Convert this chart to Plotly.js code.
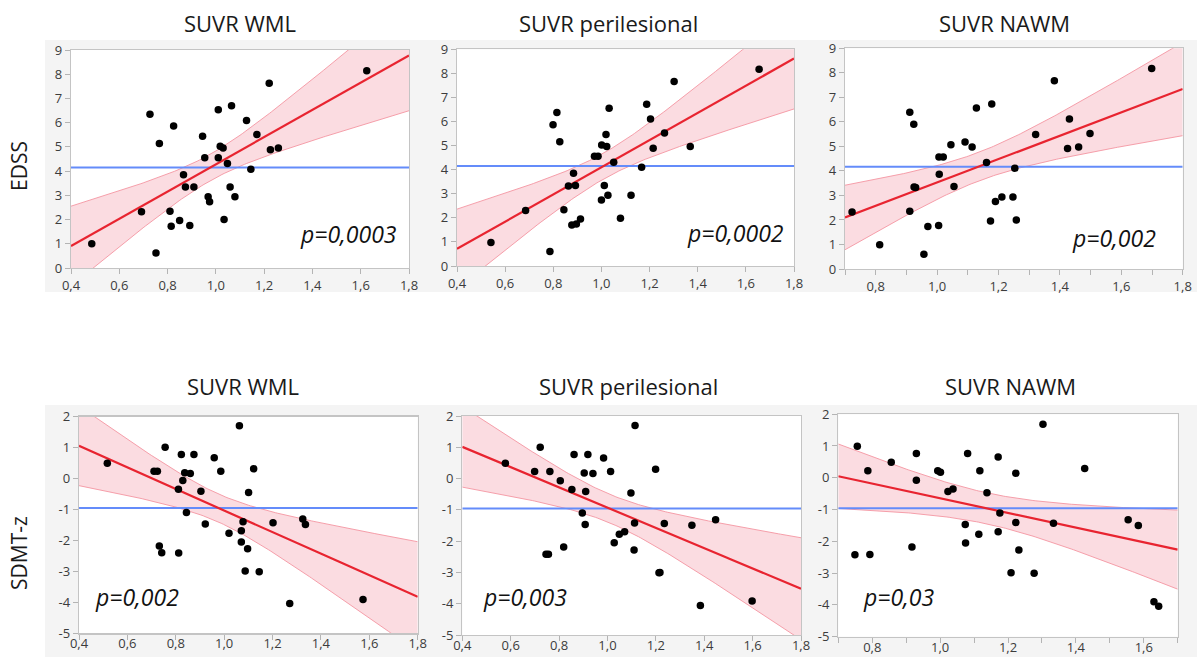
<!DOCTYPE html>
<html>
<head>
<meta charset="utf-8">
<script src="https://cdn.plot.ly/plotly-3.0.1.min.js"></script>
<style>html,body{margin:0;padding:0;background:#fff;}#chart{width:1197px;height:657px;}</style>
</head>
<body>
<div id="chart"></div>
<script>
// ---------- DATA ----------
const panelTitles = ["SUVR WML", "SUVR perilesional", "SUVR NAWM"];
const rowLabels = ["EDSS", "SDMT-z"];
const pValues = ["p=0,0003", "p=0,0002", "p=0,002", "p=0,002", "p=0,003", "p=0,03"];

const edssWmlX = [0.486,0.692,0.727,0.752,0.766,0.810,0.815,0.825,0.850,0.866,0.874,0.892,0.909,0.945,0.954,0.968,0.974,1.010,1.010,1.018,1.030,1.034,1.048,1.059,1.065,1.079,1.127,1.145,1.170,1.221,1.226,1.259,1.625];
const edssWmlY = [1.00,2.32,6.35,0.62,5.14,2.34,1.72,5.86,1.96,3.85,3.34,1.75,3.34,5.44,4.55,2.94,2.74,6.53,4.55,5.03,4.95,2.00,4.31,3.34,6.70,2.94,6.09,4.08,5.51,7.63,4.88,4.95,8.14];

const edssPeriX = [0.541,0.685,0.786,0.799,0.815,0.827,0.844,0.863,0.877,0.884,0.892,0.896,0.913,0.971,0.986,1.000,1.001,1.012,1.019,1.022,1.027,1.032,1.051,1.079,1.123,1.167,1.188,1.204,1.215,1.262,1.302,1.369,1.655];
const edssPeriY = [0.98,2.31,0.60,5.87,6.37,5.16,2.34,3.32,1.70,3.85,3.34,1.74,1.95,4.56,4.56,2.74,5.03,3.34,5.46,4.96,2.94,6.55,4.31,1.98,2.94,4.10,6.72,6.11,4.89,5.52,7.66,4.96,8.17];

const edssNawmX = [0.723,0.813,0.911,0.911,0.924,0.925,0.930,0.957,0.970,1.005,1.006,1.007,1.020,1.045,1.055,1.091,1.114,1.128,1.161,1.174,1.178,1.190,1.211,1.247,1.253,1.258,1.321,1.382,1.425,1.431,1.461,1.498,1.699];
const edssNawmY = [2.32,0.99,6.39,2.35,5.90,3.34,3.32,0.60,1.73,1.77,4.57,3.86,4.57,5.07,3.36,5.18,4.98,6.57,4.34,1.96,6.73,2.75,2.94,2.94,4.11,2.00,5.48,7.68,4.91,6.12,4.98,5.53,8.18];

const sdmtWmlX = [0.517,0.710,0.724,0.732,0.742,0.756,0.811,0.812,0.823,0.829,0.837,0.844,0.860,0.875,0.904,0.922,0.959,0.986,1.020,1.063,1.071,1.071,1.078,1.087,1.097,1.101,1.122,1.145,1.202,1.271,1.325,1.336,1.574];
const sdmtWmlY = [0.49,0.23,0.23,-2.18,-2.40,1.01,-0.35,-2.41,0.77,-0.07,0.18,-1.10,0.16,0.77,-0.41,-1.47,0.67,0.23,-1.77,1.70,-1.69,-2.05,-1.40,-2.99,-2.27,-0.45,0.31,-3.01,-1.43,-4.04,-1.31,-1.49,-3.91];

const sdmtPeriX = [0.578,0.699,0.722,0.746,0.756,0.762,0.805,0.819,0.853,0.862,0.896,0.904,0.908,0.910,0.919,0.940,0.984,1.013,1.028,1.049,1.071,1.097,1.110,1.112,1.114,1.199,1.213,1.217,1.235,1.349,1.384,1.447,1.598];
const sdmtPeriY = [0.49,0.23,1.00,-2.42,-2.42,0.23,-0.07,-2.19,-0.35,0.77,-1.10,0.18,-1.47,-0.41,0.77,0.16,0.66,0.23,-2.05,-1.78,-1.70,-0.46,-2.28,-1.42,1.70,0.30,-3.01,-3.00,-1.44,-1.49,-4.06,-1.32,-3.91];

const sdmtNawmX = [0.749,0.756,0.787,0.793,0.856,0.917,0.930,0.930,0.993,1.001,1.023,1.038,1.074,1.075,1.081,1.114,1.117,1.138,1.171,1.171,1.176,1.209,1.223,1.223,1.232,1.277,1.303,1.334,1.426,1.554,1.584,1.630,1.644];
const sdmtNawmY = [-2.42,0.99,0.22,-2.41,0.49,-2.18,0.76,-0.08,0.22,0.17,-0.43,-0.35,-1.47,-2.05,0.76,-1.78,0.22,-0.47,0.65,-1.70,-1.11,-2.99,0.14,-1.41,-2.27,-3.00,1.68,-1.43,0.29,-1.32,-1.50,-3.90,-4.04];

const xTicksFull = [0.4,0.6,0.8,1.0,1.2,1.4,1.6,1.8];
const xTickLabelsFull = ["0,4","0,6","0,8","1,0","1,2","1,4","1,6","1,8"];
const xTicksNawm = [0.8,1.0,1.2,1.4,1.6,1.8];
const xTickLabelsNawm = ["0,8","1,0","1,2","1,4","1,6","1,8"];
const yTicksEdss = [0,1,2,3,4,5,6,7,8,9];
const yTicksSdmt = [-5,-4,-3,-2,-1,0,1,2];
const yTickLabelsSdmt = ["-5","-4","-3","-2","-1","0","1","2"];

// ---------- LAYOUT CONFIG ----------
const W = 1197, H = 657;
const px = v => v / W;
const py = v => 1 - v / H;

const panels = [
  {x: edssWmlX,  y: edssWmlY,  xr:[0.4,1.8], yr:[0,9],  dom:[71,409,50,268],        top:true,  nawm:false, title:0, tcx:240},
  {x: edssPeriX, y: edssPeriY, xr:[0.4,1.8], yr:[0,9],  dom:[457,794,49.3,266],     top:true,  nawm:false, title:1, tcx:608},
  {x: edssNawmX, y: edssNawmY, xr:[0.7,1.8], yr:[0,9],  dom:[845,1182.7,48.3,269],  top:true,  nawm:true,  title:2, tcx:1004},
  {x: sdmtWmlX,  y: sdmtWmlY,  xr:[0.4,1.8], yr:[-5,2], dom:[79,417.7,416.5,633.3], top:false, nawm:false, title:0, tcx:243},
  {x: sdmtPeriX, y: sdmtPeriY, xr:[0.4,1.8], yr:[-5,2], dom:[462.3,801,416,635],    top:false, nawm:false, title:1, tcx:628},
  {x: sdmtNawmX, y: sdmtNawmY, xr:[0.7,1.7], yr:[-5,2], dom:[838.3,1177.7,414.2,636.7], top:false, nawm:true, title:2, tcx:1010}
];
const pPos = [
  {x:399, y:234, anchor:'right'}, {x:786, y:233, anchor:'right'}, {x:1158, y:238, anchor:'right'},
  {x:93, y:597, anchor:'left'}, {x:481, y:597, anchor:'left'}, {x:861, y:597, anchor:'left'}
];

const FONT = "'Open Sans', 'Noto Sans', sans-serif";
const T = 2.04; // t(0.975, 31)

function fit(xs, ys, x0, x1) {
  const n = xs.length;
  const mx = xs.reduce((a,b)=>a+b,0)/n;
  const my = ys.reduce((a,b)=>a+b,0)/n;
  let sxx=0, sxy=0;
  for (let i=0;i<n;i++){ sxx += (xs[i]-mx)**2; sxy += (xs[i]-mx)*(ys[i]-my); }
  const b = sxy/sxx, a = my - b*mx;
  let sse=0;
  for (let i=0;i<n;i++){ sse += (ys[i]-(a+b*xs[i]))**2; }
  const s = Math.sqrt(sse/(n-2));
  const N = 150, gx=[], yh=[], lo=[], hi=[];
  for (let i=0;i<=N;i++){
    const x = x0 + (x1-x0)*i/N;
    const yv = a + b*x;
    const se = s*Math.sqrt(1/n + (x-mx)**2/sxx);
    gx.push(x); yh.push(yv); lo.push(yv - T*se); hi.push(yv + T*se);
  }
  return {gx, yh, lo, hi, my};
}

const traces = [];
const layout = {
  width: W, height: H,
  margin: {l:0, r:0, t:0, b:0},
  paper_bgcolor: '#ffffff',
  plot_bgcolor: '#ffffff',
  showlegend: false,
  separators: ',.',
  font: {family: FONT, color: '#3a3a3a', size: 13},
  shapes: [
    {type:'rect', xref:'paper', yref:'paper', x0:px(45), x1:1, y0:py(292), y1:py(40), fillcolor:'#f4f4f4', line:{width:0}, layer:'below'},
    {type:'rect', xref:'paper', yref:'paper', x0:px(45), x1:1, y0:0, y1:py(405), fillcolor:'#f4f4f4', line:{width:0}, layer:'below'}
  ],
  annotations: []
};

panels.forEach((p, i) => {
  const k = i + 1;
  const xa = 'x' + (k === 1 ? '' : k), ya = 'y' + (k === 1 ? '' : k);
  const xaKey = 'xaxis' + (k === 1 ? '' : k), yaKey = 'yaxis' + (k === 1 ? '' : k);
  const f = fit(p.x, p.y, p.xr[0], p.xr[1]);

  traces.push({x:f.gx, y:f.lo, xaxis:xa, yaxis:ya, mode:'lines', line:{color:'rgba(244,150,162,0.9)', width:1}, hoverinfo:'skip'});
  traces.push({x:f.gx, y:f.hi, xaxis:xa, yaxis:ya, mode:'lines', fill:'tonexty', fillcolor:'rgba(240,110,130,0.24)', line:{color:'rgba(244,150,162,0.9)', width:1}, hoverinfo:'skip'});
  traces.push({x:[p.xr[0], p.xr[1]], y:[f.my, f.my], xaxis:xa, yaxis:ya, mode:'lines', line:{color:'rgb(100,140,250)', width:2}, hoverinfo:'skip'});
  traces.push({x:f.gx, y:f.yh, xaxis:xa, yaxis:ya, mode:'lines', line:{color:'rgb(232,36,48)', width:2.2}, hoverinfo:'skip'});
  traces.push({x:p.x, y:p.y, xaxis:xa, yaxis:ya, mode:'markers', marker:{color:'#000', size:7.5}, cliponaxis:false});

  const [l, r, t, b] = p.dom;
  layout.shapes.push({type:'rect', xref:'paper', yref:'paper', x0:px(l), x1:px(r), y0:py(b), y1:py(t), fillcolor:'#ffffff', line:{width:0}, layer:'below'});

  const xaxis = {
    domain:[px(l), px(r)], anchor: ya, range: p.xr,
    tickmode:'array',
    tickvals: p.nawm ? xTicksNawm : xTicksFull,
    ticktext: p.nawm ? xTickLabelsNawm : xTickLabelsFull,
    ticks:'outside', ticklen:5, tickcolor:'#b4b4b4', tickwidth:1,
    showline:true, linecolor:'#c4c4c4', linewidth:1.3, mirror:true,
    showgrid:false, zeroline:false,
    tickfont:{size:13, color:'#3c3c3c', family: FONT}
  };
  if (!p.top) xaxis.ticklabelstandoff = -7;
  if (p.nawm) {
    xaxis.minor = {dtick:0.1, tick0:0.7, ticks:'outside', ticklen:5, tickcolor:'#b4b4b4', showgrid:false};
  }
  layout[xaKey] = xaxis;
  layout[yaKey] = {
    domain:[py(b), py(t)], anchor: xa, range: p.yr,
    tickmode:'array',
    tickvals: p.top ? yTicksEdss : yTicksSdmt,
    ticktext: p.top ? yTicksEdss.map(String) : yTickLabelsSdmt,
    ticks:'outside', ticklen:5, tickcolor:'#b4b4b4', tickwidth:1,
    showline:true, linecolor:'#c4c4c4', linewidth:1.3, mirror:true,
    showgrid:false, zeroline:false,
    tickfont:{size:13, color:'#3c3c3c', family: FONT}
  };

  layout.annotations.push({
    text: panelTitles[p.title], xref:'paper', yref:'paper',
    x: px(p.tcx), y: py(p.top ? 23 : 386), xanchor:'center', yanchor:'middle',
    showarrow:false, font:{size:22, color:'#1a1a1a', family: FONT}
  });
  const pp = pPos[i];
  layout.annotations.push({
    text: '<i>' + pValues[i] + '</i>', xref:'paper', yref:'paper',
    x: px(pp.x), y: py(pp.y), xanchor: pp.anchor, yanchor:'middle',
    showarrow:false, font:{size:23, color:'#111', family: FONT}
  });
});

layout.annotations.push({text: rowLabels[0], xref:'paper', yref:'paper', x:px(19), y:py(166), xanchor:'center', yanchor:'middle', textangle:-90, showarrow:false, font:{size:21, color:'#1a1a1a', family: FONT}});
layout.annotations.push({text: rowLabels[1], xref:'paper', yref:'paper', x:px(19), y:py(553), xanchor:'center', yanchor:'middle', textangle:-90, showarrow:false, font:{size:21, color:'#1a1a1a', family: FONT}});

Plotly.newPlot('chart', traces, layout, {staticPlot:true, displayModeBar:false});
</script>
</body>
</html>
